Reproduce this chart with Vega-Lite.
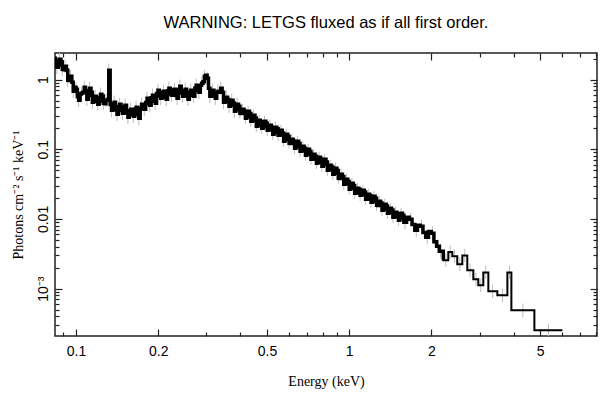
{
  "$schema": "https://vega.github.io/schema/vega-lite/v6.json",
  "width": 542,
  "height": 283,
  "autosize": "none",
  "padding": {"left": 55, "top": 53, "right": 11, "bottom": 62},
  "background": "white",
  "title": {"text": "WARNING: LETGS fluxed as if all first order.", "font": "Liberation Sans", "fontSize": 16.5, "fontWeight": "normal", "color": "black", "anchor": "middle", "frame": "group", "baseline": "alphabetic", "offset": 8},
  "config": {
    "view": {"stroke": "#222", "strokeWidth": 1.5},
    "axis": {"domain": false, "grid": false, "tickColor": "#222", "tickWidth": 1.2, "labelFont": "Liberation Sans", "labelFontSize": 14, "labelColor": "black", "titleFont": "Liberation Serif", "titleFontSize": 14, "titleFontWeight": "normal", "titleColor": "black"}
  },
  "datasets": {
    "spec": [
      {"e": 0.0832, "c": 0.0832, "f": 2.02, "lo": 1.616, "hi": 2.525},
      {"e": 0.0851, "c": 0.0851, "f": 1.50, "lo": 1.20, "hi": 1.875},
      {"e": 0.0871, "c": 0.0871, "f": 1.955, "lo": 1.564, "hi": 2.444},
      {"e": 0.0891, "c": 0.0891, "f": 1.405, "lo": 1.124, "hi": 1.756},
      {"e": 0.0912, "c": 0.0912, "f": 1.552, "lo": 1.242, "hi": 1.94},
      {"e": 0.0933, "c": 0.0933, "f": 0.977, "lo": 0.782, "hi": 1.221},
      {"e": 0.0955, "c": 0.0955, "f": 1.115, "lo": 0.892, "hi": 1.394},
      {"e": 0.0977, "c": 0.0977, "f": 0.679, "lo": 0.543, "hi": 0.849},
      {"e": 0.1000, "c": 0.1000, "f": 0.725, "lo": 0.58, "hi": 0.906},
      {"e": 0.1023, "c": 0.1023, "f": 0.505, "lo": 0.404, "hi": 0.631},
      {"e": 0.1047, "c": 0.1047, "f": 0.636, "lo": 0.509, "hi": 0.795},
      {"e": 0.1072, "c": 0.1072, "f": 0.775, "lo": 0.62, "hi": 0.969},
      {"e": 0.1096, "c": 0.1096, "f": 0.521, "lo": 0.417, "hi": 0.651},
      {"e": 0.1122, "c": 0.1122, "f": 0.750, "lo": 0.60, "hi": 0.9375},
      {"e": 0.1148, "c": 0.1148, "f": 0.473, "lo": 0.378, "hi": 0.591},
      {"e": 0.1175, "c": 0.1175, "f": 0.576, "lo": 0.461, "hi": 0.72},
      {"e": 0.1202, "c": 0.1202, "f": 0.442, "lo": 0.354, "hi": 0.5525},
      {"e": 0.1230, "c": 0.1230, "f": 0.615, "lo": 0.492, "hi": 0.769},
      {"e": 0.1259, "c": 0.1259, "f": 0.458, "lo": 0.366, "hi": 0.5725},
      {"e": 0.1288, "c": 0.1288, "f": 0.505, "lo": 0.404, "hi": 0.631},
      {"e": 0.1318, "c": 0.1318, "f": 1.359, "lo": 1.087, "hi": 1.70},
      {"e": 0.1349, "c": 0.1349, "f": 0.3626, "lo": 0.290, "hi": 0.453},
      {"e": 0.1380, "c": 0.1380, "f": 0.473, "lo": 0.378, "hi": 0.591},
      {"e": 0.1413, "c": 0.1413, "f": 0.318, "lo": 0.254, "hi": 0.3975},
      {"e": 0.1445, "c": 0.1445, "f": 0.442, "lo": 0.354, "hi": 0.5525},
      {"e": 0.1479, "c": 0.1479, "f": 0.3285, "lo": 0.263, "hi": 0.411},
      {"e": 0.1514, "c": 0.1514, "f": 0.428, "lo": 0.342, "hi": 0.535},
      {"e": 0.1549, "c": 0.1549, "f": 0.288, "lo": 0.230, "hi": 0.36},
      {"e": 0.1585, "c": 0.1585, "f": 0.375, "lo": 0.30, "hi": 0.469},
      {"e": 0.1622, "c": 0.1622, "f": 0.2975, "lo": 0.238, "hi": 0.372},
      {"e": 0.1660, "c": 0.1660, "f": 0.401, "lo": 0.321, "hi": 0.501},
      {"e": 0.1698, "c": 0.1698, "f": 0.2786, "lo": 0.223, "hi": 0.348},
      {"e": 0.1738, "c": 0.1738, "f": 0.442, "lo": 0.354, "hi": 0.5525},
      {"e": 0.1778, "c": 0.1778, "f": 0.375, "lo": 0.30, "hi": 0.469},
      {"e": 0.1820, "c": 0.1820, "f": 0.539, "lo": 0.431, "hi": 0.674},
      {"e": 0.1862, "c": 0.1862, "f": 0.428, "lo": 0.342, "hi": 0.535},
      {"e": 0.1905, "c": 0.1905, "f": 0.595, "lo": 0.476, "hi": 0.744},
      {"e": 0.1950, "c": 0.1950, "f": 0.458, "lo": 0.366, "hi": 0.5725},
      {"e": 0.1995, "c": 0.1995, "f": 0.702, "lo": 0.562, "hi": 0.8775},
      {"e": 0.2042, "c": 0.2042, "f": 0.539, "lo": 0.431, "hi": 0.674},
      {"e": 0.2089, "c": 0.2089, "f": 0.679, "lo": 0.543, "hi": 0.849},
      {"e": 0.2138, "c": 0.2138, "f": 0.521, "lo": 0.417, "hi": 0.651},
      {"e": 0.2188, "c": 0.2188, "f": 0.750, "lo": 0.60, "hi": 0.9375},
      {"e": 0.2239, "c": 0.2239, "f": 0.595, "lo": 0.476, "hi": 0.744},
      {"e": 0.2291, "c": 0.2291, "f": 0.725, "lo": 0.58, "hi": 0.906},
      {"e": 0.2344, "c": 0.2344, "f": 0.539, "lo": 0.431, "hi": 0.674},
      {"e": 0.2399, "c": 0.2399, "f": 0.801, "lo": 0.641, "hi": 1.001},
      {"e": 0.2455, "c": 0.2455, "f": 0.576, "lo": 0.461, "hi": 0.72},
      {"e": 0.2512, "c": 0.2512, "f": 0.725, "lo": 0.58, "hi": 0.906},
      {"e": 0.2570, "c": 0.2570, "f": 0.521, "lo": 0.417, "hi": 0.651},
      {"e": 0.2630, "c": 0.2630, "f": 0.702, "lo": 0.562, "hi": 0.8775},
      {"e": 0.2692, "c": 0.2692, "f": 0.576, "lo": 0.461, "hi": 0.72},
      {"e": 0.2754, "c": 0.2754, "f": 0.828, "lo": 0.662, "hi": 1.035},
      {"e": 0.2818, "c": 0.2818, "f": 0.657, "lo": 0.526, "hi": 0.821},
      {"e": 0.2884, "c": 0.2884, "f": 0.885, "lo": 0.708, "hi": 1.106},
      {"e": 0.2951, "c": 0.2951, "f": 1.115, "lo": 0.892, "hi": 1.394},
      {"e": 0.3020, "c": 0.3020, "f": 1.045, "lo": 0.836, "hi": 1.306},
      {"e": 0.3090, "c": 0.3090, "f": 0.576, "lo": 0.461, "hi": 0.72},
      {"e": 0.3162, "c": 0.3162, "f": 0.702, "lo": 0.562, "hi": 0.8775},
      {"e": 0.3236, "c": 0.3236, "f": 0.539, "lo": 0.431, "hi": 0.674},
      {"e": 0.3311, "c": 0.3311, "f": 0.679, "lo": 0.543, "hi": 0.849},
      {"e": 0.3388, "c": 0.3388, "f": 0.750, "lo": 0.60, "hi": 0.9375},
      {"e": 0.3467, "c": 0.3467, "f": 0.473, "lo": 0.378, "hi": 0.591},
      {"e": 0.3548, "c": 0.3548, "f": 0.557, "lo": 0.446, "hi": 0.696},
      {"e": 0.3631, "c": 0.3631, "f": 0.414, "lo": 0.331, "hi": 0.5175},
      {"e": 0.3715, "c": 0.3715, "f": 0.505, "lo": 0.404, "hi": 0.631},
      {"e": 0.3802, "c": 0.3802, "f": 0.351, "lo": 0.281, "hi": 0.439},
      {"e": 0.3890, "c": 0.3890, "f": 0.442, "lo": 0.354, "hi": 0.5525},
      {"e": 0.3981, "c": 0.3981, "f": 0.3285, "lo": 0.273, "hi": 0.394},
      {"e": 0.4074, "c": 0.4074, "f": 0.375, "lo": 0.311, "hi": 0.45},
      {"e": 0.4169, "c": 0.4169, "f": 0.2786, "lo": 0.231, "hi": 0.334},
      {"e": 0.4266, "c": 0.4266, "f": 0.351, "lo": 0.291, "hi": 0.421},
      {"e": 0.4365, "c": 0.4365, "f": 0.252, "lo": 0.209, "hi": 0.302},
      {"e": 0.4467, "c": 0.4467, "f": 0.3075, "lo": 0.255, "hi": 0.369},
      {"e": 0.4571, "c": 0.4571, "f": 0.2138, "lo": 0.1775, "hi": 0.2566},
      {"e": 0.4677, "c": 0.4677, "f": 0.2606, "lo": 0.2163, "hi": 0.3127},
      {"e": 0.4786, "c": 0.4786, "f": 0.2002, "lo": 0.1662, "hi": 0.2402},
      {"e": 0.4898, "c": 0.4898, "f": 0.252, "lo": 0.209, "hi": 0.302},
      {"e": 0.5012, "c": 0.5012, "f": 0.1874, "lo": 0.1555, "hi": 0.2249},
      {"e": 0.5129, "c": 0.5129, "f": 0.221, "lo": 0.1834, "hi": 0.2652},
      {"e": 0.5248, "c": 0.5248, "f": 0.1642, "lo": 0.1363, "hi": 0.197},
      {"e": 0.5370, "c": 0.5370, "f": 0.2069, "lo": 0.1717, "hi": 0.2483},
      {"e": 0.5495, "c": 0.5495, "f": 0.1588, "lo": 0.1318, "hi": 0.1906},
      {"e": 0.5623, "c": 0.5623, "f": 0.1874, "lo": 0.1555, "hi": 0.2249},
      {"e": 0.5754, "c": 0.5754, "f": 0.1302, "lo": 0.1081, "hi": 0.1562},
      {"e": 0.5888, "c": 0.5888, "f": 0.1642, "lo": 0.1363, "hi": 0.197},
      {"e": 0.6026, "c": 0.6026, "f": 0.1219, "lo": 0.1012, "hi": 0.1463},
      {"e": 0.6166, "c": 0.6166, "f": 0.1391, "lo": 0.1155, "hi": 0.1669},
      {"e": 0.6310, "c": 0.6310, "f": 0.1033, "lo": 0.0857, "hi": 0.124},
      {"e": 0.6457, "c": 0.6457, "f": 0.1302, "lo": 0.1081, "hi": 0.1562},
      {"e": 0.6607, "c": 0.6607, "f": 0.0936, "lo": 0.0777, "hi": 0.1123},
      {"e": 0.6761, "c": 0.6761, "f": 0.1104, "lo": 0.0916, "hi": 0.1325},
      {"e": 0.6918, "c": 0.6918, "f": 0.0820, "lo": 0.0681, "hi": 0.0984},
      {"e": 0.7079, "c": 0.7079, "f": 0.0999, "lo": 0.0829, "hi": 0.1199},
      {"e": 0.7244, "c": 0.7244, "f": 0.0718, "lo": 0.0596, "hi": 0.0862},
      {"e": 0.7413, "c": 0.7413, "f": 0.0847, "lo": 0.0703, "hi": 0.1016},
      {"e": 0.7586, "c": 0.7586, "f": 0.0629, "lo": 0.0522, "hi": 0.0755},
      {"e": 0.7762, "c": 0.7762, "f": 0.0768, "lo": 0.0637, "hi": 0.0922},
      {"e": 0.7943, "c": 0.7943, "f": 0.0570, "lo": 0.0473, "hi": 0.0684},
      {"e": 0.8128, "c": 0.8128, "f": 0.0718, "lo": 0.0596, "hi": 0.0862},
      {"e": 0.8318, "c": 0.8318, "f": 0.0500, "lo": 0.0415, "hi": 0.060},
      {"e": 0.8511, "c": 0.8511, "f": 0.0589, "lo": 0.0489, "hi": 0.0707},
      {"e": 0.8710, "c": 0.8710, "f": 0.0438, "lo": 0.0364, "hi": 0.0526},
      {"e": 0.8913, "c": 0.8913, "f": 0.0534, "lo": 0.0443, "hi": 0.0641},
      {"e": 0.9120, "c": 0.9120, "f": 0.0384, "lo": 0.0319, "hi": 0.0461},
      {"e": 0.9333, "c": 0.9333, "f": 0.0438, "lo": 0.0364, "hi": 0.0526},
      {"e": 0.9550, "c": 0.9550, "f": 0.0315, "lo": 0.0261, "hi": 0.0378},
      {"e": 0.9772, "c": 0.9772, "f": 0.0371, "lo": 0.0308, "hi": 0.0445},
      {"e": 1.000, "c": 1.000, "f": 0.0267, "lo": 0.0222, "hi": 0.032},
      {"e": 1.023, "c": 1.023, "f": 0.0325, "lo": 0.027, "hi": 0.039},
      {"e": 1.047, "c": 1.047, "f": 0.0234, "lo": 0.0194, "hi": 0.0281},
      {"e": 1.072, "c": 1.072, "f": 0.0276, "lo": 0.0229, "hi": 0.0331},
      {"e": 1.096, "c": 1.096, "f": 0.0219, "lo": 0.0182, "hi": 0.0263},
      {"e": 1.122, "c": 1.122, "f": 0.0258, "lo": 0.0214, "hi": 0.031},
      {"e": 1.148, "c": 1.148, "f": 0.0192, "lo": 0.0159, "hi": 0.023},
      {"e": 1.175, "c": 1.175, "f": 0.0226, "lo": 0.0188, "hi": 0.0271},
      {"e": 1.202, "c": 1.202, "f": 0.01736, "lo": 0.0144, "hi": 0.0208},
      {"e": 1.230, "c": 1.230, "f": 0.0212, "lo": 0.0176, "hi": 0.0254},
      {"e": 1.259, "c": 1.259, "f": 0.01572, "lo": 0.01305, "hi": 0.01886},
      {"e": 1.288, "c": 1.288, "f": 0.01795, "lo": 0.0149, "hi": 0.02154},
      {"e": 1.318, "c": 1.318, "f": 0.01334, "lo": 0.01107, "hi": 0.01601},
      {"e": 1.349, "c": 1.349, "f": 0.01625, "lo": 0.01349, "hi": 0.0195},
      {"e": 1.380, "c": 1.380, "f": 0.01208, "lo": 0.01003, "hi": 0.0145},
      {"e": 1.413, "c": 1.413, "f": 0.01425, "lo": 0.01183, "hi": 0.0171},
      {"e": 1.445, "c": 1.445, "f": 0.01058, "lo": 0.00878, "hi": 0.0127},
      {"e": 1.479, "c": 1.479, "f": 0.01249, "lo": 0.01037, "hi": 0.01499},
      {"e": 1.514, "c": 1.514, "f": 0.00958, "lo": 0.00795, "hi": 0.0115},
      {"e": 1.549, "c": 1.549, "f": 0.01208, "lo": 0.01003, "hi": 0.0145},
      {"e": 1.585, "c": 1.60, "f": 0.00897, "lo": 0.00718, "hi": 0.01121},
      {"e": 1.660, "c": 1.68, "f": 0.0099, "lo": 0.00792, "hi": 0.01238},
      {"e": 1.738, "c": 1.76, "f": 0.00689, "lo": 0.00551, "hi": 0.00861},
      {"e": 1.820, "c": 1.84, "f": 0.00786, "lo": 0.00629, "hi": 0.00983},
      {"e": 1.905, "c": 1.93, "f": 0.00547, "lo": 0.00438, "hi": 0.00684},
      {"e": 1.995, "c": 2.02, "f": 0.00624, "lo": 0.00499, "hi": 0.0078},
      {"e": 2.089, "c": 2.11, "f": 0.00405, "lo": 0.00324, "hi": 0.00506},
      {"e": 2.138, "c": 2.16, "f": 0.00345, "lo": 0.00276, "hi": 0.00431},
      {"e": 2.210, "c": 2.26, "f": 0.00255, "lo": 0.00204, "hi": 0.00319},
      {"e": 2.305, "c": 2.34, "f": 0.00335, "lo": 0.00268, "hi": 0.00419},
      {"e": 2.384, "c": 2.43, "f": 0.00291, "lo": 0.00233, "hi": 0.00364},
      {"e": 2.486, "c": 2.54, "f": 0.00224, "lo": 0.00179, "hi": 0.00280},
      {"e": 2.594, "c": 2.65, "f": 0.00300, "lo": 0.00240, "hi": 0.00375},
      {"e": 2.705, "c": 2.77, "f": 0.00183, "lo": 0.00146, "hi": 0.00229},
      {"e": 2.846, "c": 2.91, "f": 0.00136, "lo": 0.00109, "hi": 0.00170},
      {"e": 2.968, "c": 3.03, "f": 0.00112, "lo": 0.000896, "hi": 0.00140},
      {"e": 3.096, "c": 3.16, "f": 0.00171, "lo": 0.00137, "hi": 0.00214},
      {"e": 3.230, "c": 3.35, "f": 0.000916, "lo": 0.000733, "hi": 0.00115},
      {"e": 3.485, "c": 3.64, "f": 0.000802, "lo": 0.000642, "hi": 0.00100},
      {"e": 3.792, "c": 3.86, "f": 0.00171, "lo": 0.00137, "hi": 0.00214},
      {"e": 3.922, "c": 4.32, "f": 0.000489, "lo": 0.000391, "hi": 0.000611},
      {"e": 4.761, "c": 5.36, "f": 0.000252, "lo": 0.000202, "hi": 0.000315},
      {"e": 6.028, "f": 0.000252},
      {"e": 0.0842, "f": 1.90}, {"e": 0.0861, "f": 1.61}, {"e": 0.0881, "f": 1.81}, {"e": 0.0901, "f": 1.38},
      {"e": 0.0923, "f": 1.36}, {"e": 0.0944, "f": 0.97}, {"e": 0.0966, "f": 0.92}, {"e": 0.0988, "f": 0.78},
      {"e": 0.1012, "f": 0.57}, {"e": 0.1035, "f": 0.62}, {"e": 0.1059, "f": 0.66}, {"e": 0.1084, "f": 0.70},
      {"e": 0.1109, "f": 0.59}, {"e": 0.1135, "f": 0.66}, {"e": 0.1161, "f": 0.49}, {"e": 0.1189, "f": 0.55},
      {"e": 0.1216, "f": 0.49}, {"e": 0.1244, "f": 0.58}, {"e": 0.1274, "f": 0.45}, {"e": 0.1303, "f": 0.52},
      {"e": 0.1334, "f": 0.44}, {"e": 0.1365, "f": 0.45}, {"e": 0.1396, "f": 0.37}, {"e": 0.1429, "f": 0.41},
      {"e": 0.1462, "f": 0.36}, {"e": 0.1496, "f": 0.41}, {"e": 0.1531, "f": 0.333}, {"e": 0.1567, "f": 0.357},
      {"e": 0.1603, "f": 0.313}, {"e": 0.1641, "f": 0.378}, {"e": 0.1679, "f": 0.316}, {"e": 0.1718, "f": 0.389},
      {"e": 0.1758, "f": 0.380}, {"e": 0.1799, "f": 0.47}, {"e": 0.1841, "f": 0.45}, {"e": 0.1884, "f": 0.55},
      {"e": 0.1927, "f": 0.49}, {"e": 0.1972, "f": 0.63}, {"e": 0.2018, "f": 0.58}, {"e": 0.2065, "f": 0.66},
      {"e": 0.2113, "f": 0.56}, {"e": 0.2163, "f": 0.69}, {"e": 0.2213, "f": 0.62}, {"e": 0.2265, "f": 0.71},
      {"e": 0.2318, "f": 0.59}, {"e": 0.2371, "f": 0.72}, {"e": 0.2427, "f": 0.64}, {"e": 0.2483, "f": 0.70},
      {"e": 0.2541, "f": 0.58}, {"e": 0.2600, "f": 0.66}, {"e": 0.2661, "f": 0.595}, {"e": 0.2723, "f": 0.76},
      {"e": 0.2786, "f": 0.69}, {"e": 0.2851, "f": 0.83}, {"e": 0.2917, "f": 0.93}, {"e": 0.2985, "f": 1.16},
      {"e": 0.3055, "f": 0.75}, {"e": 0.3126, "f": 0.69}, {"e": 0.3199, "f": 0.58}, {"e": 0.3273, "f": 0.66},
      {"e": 0.3349, "f": 0.66}, {"e": 0.3427, "f": 0.66}, {"e": 0.3507, "f": 0.48}, {"e": 0.3589, "f": 0.52},
      {"e": 0.3673, "f": 0.43}, {"e": 0.3758, "f": 0.46}, {"e": 0.3846, "f": 0.369}, {"e": 0.3936, "f": 0.416},
      {"e": 0.4027, "f": 0.327}, {"e": 0.4121, "f": 0.353}, {"e": 0.4217, "f": 0.293}, {"e": 0.4315, "f": 0.325},
      {"e": 0.4416, "f": 0.260}, {"e": 0.4519, "f": 0.281}, {"e": 0.4624, "f": 0.220}, {"e": 0.4731, "f": 0.249},
      {"e": 0.4842, "f": 0.210}, {"e": 0.4955, "f": 0.237}, {"e": 0.5070, "f": 0.190}, {"e": 0.5188, "f": 0.208},
      {"e": 0.5309, "f": 0.1725}, {"e": 0.5432, "f": 0.1975}, {"e": 0.5559, "f": 0.161}, {"e": 0.5689, "f": 0.171},
      {"e": 0.5821, "f": 0.137}, {"e": 0.5956, "f": 0.154}, {"e": 0.6096, "f": 0.1214}, {"e": 0.6237, "f": 0.131},
      {"e": 0.6383, "f": 0.1086}, {"e": 0.6532, "f": 0.121}, {"e": 0.6683, "f": 0.0949}, {"e": 0.6839, "f": 0.1039},
      {"e": 0.6998, "f": 0.0846}, {"e": 0.7161, "f": 0.0927}, {"e": 0.7328, "f": 0.0728}, {"e": 0.7499, "f": 0.0797},
      {"e": 0.7674, "f": 0.0650}, {"e": 0.7852, "f": 0.0723}, {"e": 0.8035, "f": 0.0599}, {"e": 0.8222, "f": 0.0658},
      {"e": 0.8414, "f": 0.0507}, {"e": 0.8610, "f": 0.0555}, {"e": 0.8810, "f": 0.0452}, {"e": 0.9016, "f": 0.0496},
      {"e": 0.9226, "f": 0.0382}, {"e": 0.9441, "f": 0.0407}, {"e": 0.9661, "f": 0.0319}, {"e": 0.9885, "f": 0.0345},
      {"e": 1.0116, "f": 0.0275}, {"e": 1.035, "f": 0.0302}, {"e": 1.059, "f": 0.0237}, {"e": 1.084, "f": 0.0268},
      {"e": 1.109, "f": 0.0222}, {"e": 1.135, "f": 0.0243}, {"e": 1.161, "f": 0.0194}, {"e": 1.189, "f": 0.0216},
      {"e": 1.216, "f": 0.0179}, {"e": 1.244, "f": 0.0199}, {"e": 1.274, "f": 0.01566}, {"e": 1.303, "f": 0.0169},
      {"e": 1.334, "f": 0.01376}, {"e": 1.365, "f": 0.0153}, {"e": 1.396, "f": 0.01225}, {"e": 1.429, "f": 0.01341},
      {"e": 1.462, "f": 0.01073}, {"e": 1.496, "f": 0.01192}, {"e": 1.531, "f": 0.01007}, {"e": 1.567, "f": 0.01135},
      {"e": 1.622, "f": 0.0106}, {"e": 1.698, "f": 0.0083}, {"e": 1.778, "f": 0.0081}, {"e": 1.862, "f": 0.0064},
      {"e": 1.950, "f": 0.0066}, {"e": 2.042, "f": 0.0047}
    ]
  },
  "data": {"name": "spec"},
  "layer": [
    {
      "transform": [{"filter": "datum.lo != null"}],
      "mark": {"type": "rule", "color": "#bdbdbd", "strokeWidth": 1, "clip": true},
      "encoding": {
        "x": {"field": "c", "type": "quantitative", "scale": {"type": "log", "domain": [0.0838, 8.07], "nice": false},
          "axis": {"orient": "bottom", "values": [0.1, 0.2, 0.5, 1, 2, 5], "format": "~g", "tickSize": -7, "labelPadding": 26, "labelBaseline": "alphabetic", "labelFlush": false, "labelOverlap": false, "title": "Energy (keV)", "titleY": 49, "titleBaseline": "alphabetic"}},
        "y": {"field": "lo", "type": "quantitative", "scale": {"type": "log", "domain": [0.000209, 2.41], "nice": false},
          "axis": {"orient": "left", "values": [0.001, 0.01, 0.1, 1], "labelExpr": "datum.value < 0.005 ? '10⁻³' : datum.value < 0.05 ? '0.01' : datum.value < 0.5 ? '0.1' : '1'", "tickSize": -7, "labelPadding": 15, "labelAngle": 270, "labelAlign": "center", "labelBaseline": "alphabetic", "labelOverlap": false, "labelFlush": false, "title": "Photons cm⁻² s⁻¹ keV⁻¹", "titleAngle": 270, "titleX": -33, "titleY": 141.5, "titleAlign": "center", "titleBaseline": "alphabetic"}},
        "y2": {"field": "hi"}
      }
    },
    {
      "transform": [{"filter": "datum.e <= 2.21"}],
      "mark": {"type": "line", "interpolate": "step-after", "color": "black", "strokeWidth": 3.5, "clip": true},
      "encoding": {
        "x": {"field": "e", "type": "quantitative", "scale": {"type": "log", "domain": [0.0838, 8.07], "nice": false},
          "axis": {"orient": "bottom", "values": [0.09, 0.3, 0.4, 0.6, 0.7, 0.8, 0.9, 3, 4, 6, 7, 8], "labels": false, "tickSize": -4, "title": null}},
        "y": {"field": "f", "type": "quantitative", "scale": {"type": "log", "domain": [0.000209, 2.41], "nice": false},
          "axis": {"orient": "left", "values": [0.0003, 0.0004, 0.0005, 0.0006, 0.0007, 0.0008, 0.0009, 0.002, 0.003, 0.004, 0.005, 0.006, 0.007, 0.008, 0.009, 0.02, 0.03, 0.04, 0.05, 0.06, 0.07, 0.08, 0.09, 0.2, 0.3, 0.4, 0.5, 0.6, 0.7, 0.8, 0.9, 2], "labels": false, "tickSize": -4, "title": null}}
      }
    },
    {
      "transform": [{"filter": "datum.e >= 2.138"}],
      "mark": {"type": "line", "interpolate": "step-after", "color": "black", "strokeWidth": 2, "clip": true},
      "encoding": {
        "x": {"field": "e", "type": "quantitative", "scale": {"type": "log", "domain": [0.0838, 8.07], "nice": false},
          "axis": {"orient": "top", "values": [0.1, 0.2, 0.5, 1, 2, 5], "labels": false, "tickSize": -7, "title": null}},
        "y": {"field": "f", "type": "quantitative", "scale": {"type": "log", "domain": [0.000209, 2.41], "nice": false},
          "axis": {"orient": "right", "values": [0.001, 0.01, 0.1, 1], "labels": false, "tickSize": -7, "title": null}}
      }
    },
    {
      "mark": {"type": "line", "interpolate": "step-after", "strokeOpacity": 0, "clip": true},
      "encoding": {
        "x": {"field": "e", "type": "quantitative", "scale": {"type": "log", "domain": [0.0838, 8.07], "nice": false},
          "axis": {"orient": "top", "values": [0.09, 0.3, 0.4, 0.6, 0.7, 0.8, 0.9, 3, 4, 6, 7, 8], "labels": false, "tickSize": -4, "title": null}},
        "y": {"field": "f", "type": "quantitative", "scale": {"type": "log", "domain": [0.000209, 2.41], "nice": false},
          "axis": {"orient": "right", "values": [0.0003, 0.0004, 0.0005, 0.0006, 0.0007, 0.0008, 0.0009, 0.002, 0.003, 0.004, 0.005, 0.006, 0.007, 0.008, 0.009, 0.02, 0.03, 0.04, 0.05, 0.06, 0.07, 0.08, 0.09, 0.2, 0.3, 0.4, 0.5, 0.6, 0.7, 0.8, 0.9, 2], "labels": false, "tickSize": -4, "title": null}}
      }
    }
  ],
  "resolve": {"axis": {"x": "independent", "y": "independent"}}
}
